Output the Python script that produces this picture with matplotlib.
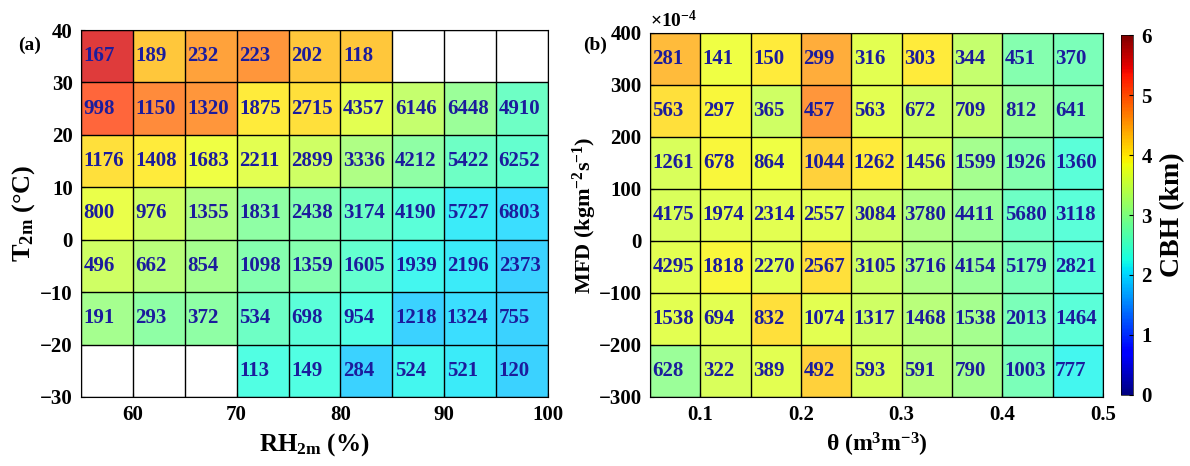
import numpy as np
import matplotlib
matplotlib.use("Agg")
import matplotlib.pyplot as plt
from matplotlib import cm, colors

plt.rcParams['font.family'] = ['Liberation Serif', 'DejaVu Serif']
plt.rcParams['font.weight'] = 'bold'
plt.rcParams['axes.labelweight'] = 'bold'
plt.rcParams['mathtext.fontset'] = 'custom'
plt.rcParams['mathtext.rm'] = 'Liberation Serif:bold'
plt.rcParams['mathtext.it'] = 'Liberation Serif:bold'
plt.rcParams['mathtext.bf'] = 'Liberation Serif:bold'
plt.rcParams['mathtext.default'] = 'rm'

# ---- panel (a): RH2m vs T2m ----
rh_edges = [55, 60, 65, 70, 75, 80, 85, 90, 95, 100]
t_edges = [-30, -20, -10, 0, 10, 20, 30, 40]
# rows listed top (30~40) to bottom (-30~-20); nan = no sample
cbh_a = [
    [5.55, 4.3, 4.6, 4.7, 4.3, 4.3, np.nan, np.nan, np.nan],
    [5.1, 4.8, 4.7, 4.0, 4.1, 3.7, 3.4, 3.0, 2.6],
    [4.1, 4.0, 3.8, 3.7, 3.5, 3.2, 2.9, 2.6, 2.5],
    [3.75, 3.5, 3.2, 2.9, 2.8, 2.6, 2.4, 2.1, 2.0],
    [3.5, 3.3, 3.1, 2.8, 2.8, 2.5, 2.2, 2.1, 1.9],
    [3.1, 2.9, 2.9, 2.6, 2.4, 2.3, 1.9, 2.0, 1.9],
    [np.nan, np.nan, np.nan, 2.3, 2.3, 1.9, 2.2, 2.1, 1.9],
]
n_a = [
    [167, 189, 232, 223, 202, 118, None, None, None],
    [998, 1150, 1320, 1875, 2715, 4357, 6146, 6448, 4910],
    [1176, 1408, 1683, 2211, 2899, 3336, 4212, 5422, 6252],
    [800, 976, 1355, 1831, 2438, 3174, 4190, 5727, 6803],
    [496, 662, 854, 1098, 1359, 1605, 1939, 2196, 2373],
    [191, 293, 372, 534, 698, 954, 1218, 1324, 755],
    [None, None, None, 113, 149, 284, 524, 521, 120],
]

# ---- panel (b): soil moisture vs MFD ----
theta_edges = [0.05, 0.1, 0.15, 0.2, 0.25, 0.3, 0.35, 0.4, 0.45, 0.5]
mfd_edges = [-300, -200, -100, 0, 100, 200, 300, 400]
cbh_b = [
    [4.4, 3.8, 4.0, 4.5, 3.7, 4.0, 3.4, 2.8, 2.7],
    [4.1, 3.9, 3.5, 4.7, 3.7, 3.5, 3.4, 3.0, 2.8],
    [3.6, 3.9, 3.8, 4.2, 4.0, 3.6, 3.1, 2.8, 2.4],
    [3.6, 3.7, 3.7, 3.7, 3.5, 3.2, 3.0, 2.6, 2.4],
    [3.7, 3.9, 3.7, 4.1, 3.5, 3.2, 3.0, 2.7, 2.4],
    [3.7, 3.7, 4.1, 3.7, 3.5, 3.3, 3.1, 2.7, 2.4],
    [3.0, 3.6, 3.7, 4.2, 3.6, 3.3, 3.1, 2.7, 2.2],
]
n_b = [
    [281, 141, 150, 299, 316, 303, 344, 451, 370],
    [563, 297, 365, 457, 563, 672, 709, 812, 641],
    [1261, 678, 864, 1044, 1262, 1456, 1599, 1926, 1360],
    [4175, 1974, 2314, 2557, 3084, 3780, 4411, 5680, 3118],
    [4295, 1818, 2270, 2567, 3105, 3716, 4154, 5179, 2821],
    [1538, 694, 832, 1074, 1317, 1468, 1538, 2013, 1464],
    [628, 322, 389, 492, 593, 591, 790, 1003, 777],
]

norm = colors.Normalize(0, 6)
cmap = plt.get_cmap('jet')
txt_color = '#1c1c9c'


def draw_panel(ax, xe, ye, vals, counts):
    v = np.ma.masked_invalid(np.flipud(np.array(vals, dtype=float)))
    ax.pcolormesh(xe, ye, v, cmap=cmap, norm=norm, alpha=0.77)
    for x in xe:
        ax.axvline(x, color='k', lw=1.0)
    for y in ye:
        ax.axhline(y, color='k', lw=1.0)
    nrow = len(counts)
    for i, row in enumerate(counts):
        yc = (ye[nrow - 1 - i] + ye[nrow - i]) / 2
        for j, c in enumerate(row):
            if c is None:
                continue
            xl = xe[j] + (xe[j + 1] - xe[j]) * 0.05
            ax.text(xl, yc, str(c), ha='left', va='center', color=txt_color,
                    fontsize=15, fontweight='bold')
    ax.set_xlim(xe[0], xe[-1])
    ax.set_ylim(ye[0], ye[-1])
    ax.tick_params(direction='in', length=3, labelsize=15, pad=6)


fig = plt.figure(figsize=(11.9, 4.66), dpi=100)
W, H = 1190, 466
ax_a = fig.add_axes([81 / W, (H - 397) / H, (548 - 81) / W, (397 - 30) / H])
ax_b = fig.add_axes([650 / W, (H - 397) / H, (1103 - 650) / W, (397 - 33) / H])
cax = fig.add_axes([1121 / W, (H - 395) / H, 12 / W, (395 - 35) / H])

draw_panel(ax_a, rh_edges, t_edges, cbh_a, n_a)
ax_a.set_xticks([60, 70, 80, 90, 100])
ax_a.set_yticks(t_edges)
ax_a.set_xlabel('RH$_{2m}$ (%)', fontsize=18, labelpad=4)
ax_a.set_ylabel('T$_{2m}$ (°C)', fontsize=19, labelpad=2)

draw_panel(ax_b, theta_edges, mfd_edges, cbh_b, n_b)
ax_b.set_xticks([0.1, 0.2, 0.3, 0.4, 0.5])
ax_b.set_xticklabels(['0.1', '0.2', '0.3', '0.4', '0.5'])
ax_b.set_yticks(mfd_edges)
ax_b.set_xlabel('θ (m$^3$m$^{-3}$)', fontsize=17, labelpad=4)
ax_b.set_ylabel('MFD (kgm$^{-2}$s$^{-1}$)', fontsize=16, labelpad=0)
ax_b.text(0.0, 1.005, '×10$^{-4}$', transform=ax_b.transAxes, ha='left',
          va='bottom', fontsize=14)

sm = cm.ScalarMappable(norm=norm, cmap=cmap)
cb = fig.colorbar(sm, cax=cax)
cb.set_ticks(range(7))
cb.ax.tick_params(direction='in', length=3, labelsize=15, pad=6)
cb.outline.set_linewidth(0.5)
cb.set_label('CBH (km)', fontsize=20, labelpad=6)

fig.text(18 / W, 1 - 45 / H, '(a)', fontsize=14, ha='left', va='center')
fig.text(583 / W, 1 - 45 / H, '(b)', fontsize=14, ha='left', va='center')

fig.savefig('out.png', dpi=100)
